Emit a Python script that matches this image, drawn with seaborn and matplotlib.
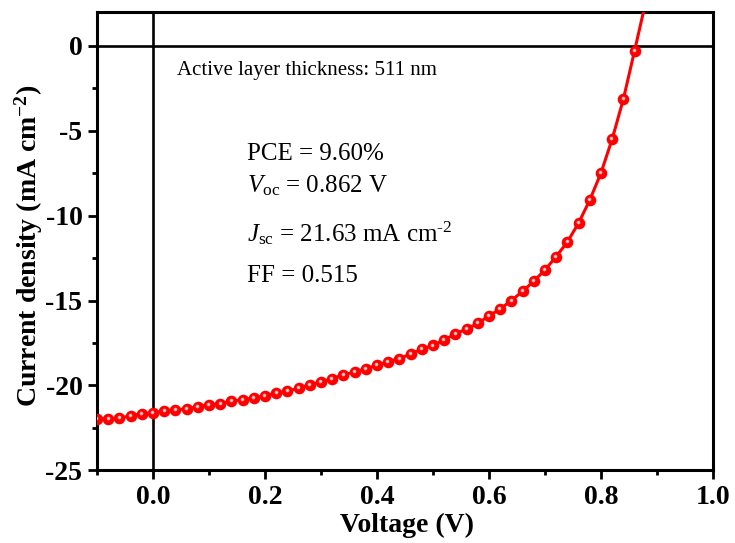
import numpy as np
import pandas as pd
import matplotlib
matplotlib.use("Agg")
import matplotlib.pyplot as plt
import seaborn as sns
from matplotlib.ticker import MultipleLocator
from matplotlib.transforms import ScaledTranslation

# -----------------------------
# J-V data
# -----------------------------
voltage = [-0.10, -0.08, -0.06, -0.04, -0.02, 0.00, 0.02, 0.04, 0.06, 0.08,
           0.10, 0.12, 0.14, 0.16, 0.18, 0.20, 0.22, 0.24, 0.26, 0.28,
           0.30, 0.32, 0.34, 0.36, 0.38, 0.40, 0.42, 0.44, 0.46, 0.48,
           0.50, 0.52, 0.54, 0.56, 0.58, 0.60, 0.62, 0.64, 0.66, 0.68,
           0.70, 0.72, 0.74, 0.76, 0.78, 0.80, 0.82, 0.84, 0.86, 0.88]
current = [-22.00, -21.98, -21.94, -21.78, -21.68, -21.63, -21.51, -21.45, -21.38, -21.25,
           -21.15, -21.07, -20.93, -20.84, -20.74, -20.62, -20.46, -20.35, -20.16, -19.97,
           -19.81, -19.61, -19.37, -19.22, -19.02, -18.82, -18.60, -18.43, -18.15, -17.87,
           -17.65, -17.32, -16.97, -16.68, -16.35, -15.90, -15.50, -15.00, -14.46, -13.86,
           -13.20, -12.41, -11.55, -10.44, -9.08, -7.49, -5.49, -3.14, -0.29, 2.60]

x_ticks = [0.0, 0.2, 0.4, 0.6, 0.8, 1.0]
x_ticklabels = ["0.0", "0.2", "0.4", "0.6", "0.8", "1.0"]

thickness_label = "Active layer thickness: 511 nm"
params = ["PCE = 9.60%",
          r"$V_{\mathrm{oc}}$ = 0.862 V",
          r"$J_{\mathrm{sc}}$ = 21.63 mA cm$^{\text{-2}}$",
          "FF = 0.515"]

df = pd.DataFrame({"V": voltage, "J": current})

# -----------------------------
# Style
# -----------------------------
sns.set_style("ticks")
plt.rcParams["font.family"] = ["Liberation Serif", "DejaVu Serif"]
plt.rcParams["mathtext.fontset"] = "custom"
plt.rcParams["mathtext.rm"] = "Liberation Serif"
plt.rcParams["mathtext.it"] = "Liberation Serif:italic"
plt.rcParams["mathtext.bf"] = "Liberation Serif:bold"
plt.rcParams["axes.unicode_minus"] = False
plt.rcParams["axes.edgecolor"] = "black"
plt.rcParams["xtick.color"] = "black"
plt.rcParams["ytick.color"] = "black"
plt.rcParams["text.color"] = "black"
plt.rcParams["axes.labelcolor"] = "black"

fig = plt.figure(figsize=(7.35, 5.43), dpi=100)
ax = fig.add_axes([0.132, 0.134, 0.838, 0.844])

red = "#ff0000"
sns.lineplot(data=df, x="V", y="J", ax=ax, color=red, lw=2.2, zorder=3)
ax.scatter(df["V"], df["J"], s=70, color=red, lw=0, zorder=4)
# glossy highlight on each ball
hl = ax.transData + ScaledTranslation(-0.5 / 72, 0.7 / 72, fig.dpi_scale_trans)
ax.scatter(df["V"], df["J"], s=7, color="#ffa0a0", lw=0, zorder=5, transform=hl)
ax.scatter(df["V"], df["J"], s=1.5, color="#fff0f0", lw=0, zorder=6, transform=hl)

# zero lines
ax.axhline(0, color="black", lw=1.9, zorder=2)
ax.axvline(0, color="black", lw=1.9, zorder=2)

ax.set_xlim(-0.1, 1.0)
ax.set_ylim(-25, 2)
ax.xaxis.set_minor_locator(MultipleLocator(0.1))
ax.yaxis.set_major_locator(MultipleLocator(5))
ax.yaxis.set_minor_locator(MultipleLocator(2.5))
ax.set_xticks(x_ticks)
ax.set_xticklabels(x_ticklabels)

for s in ax.spines.values():
    s.set_linewidth(2.2)
    s.set_visible(True)
ax.tick_params(which="major", direction="out", length=6.5, width=2.0,
               labelsize=20, pad=4)
ax.tick_params(which="minor", direction="out", length=3.8, width=2.0)
for lab in ax.get_xticklabels() + ax.get_yticklabels():
    lab.set_fontweight("bold")

ax.set_xlabel("Voltage (V)", fontsize=20, fontweight="bold")
ax.set_ylabel(r"Current density (mA cm$^{\mathbf{-2}}$)", fontsize=20,
              fontweight="bold")
ax.xaxis.set_label_coords(0.503, -0.094)
ax.yaxis.set_label_coords(-0.085, 0.489)

ax.text(0.043, -1.45, thickness_label, fontsize=15, va="center", ha="left")
ys = [-6.35, -8.25, -11.05, -13.55]
for txt, y in zip(params, ys):
    ax.text(0.168, y, txt, fontsize=18, va="center", ha="left")

fig.savefig("out.png", dpi=100)
